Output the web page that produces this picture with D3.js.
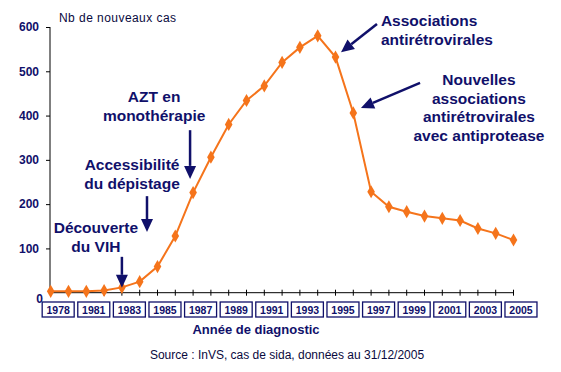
<!DOCTYPE html>
<html>
<head>
<meta charset="utf-8">
<script src="https://cdn.jsdelivr.net/npm/d3@7"></script>
<style>
  body { margin: 0; background: #fff; }
  text { font-family: Arial, "Liberation Sans", sans-serif; }
</style>
</head>
<body>
<div id="chart"></div>
<script>
// data
var years = [1979, 1980, 1981, 1982, 1983, 1984, 1985, 1986, 1987, 1988, 1989, 1990, 1991, 1992,
             1993, 1994, 1995, 1996, 1997, 1998, 1999, 2000, 2001, 2002, 2003, 2004, 2005];
var cases = [3, 3, 3, 5, 12, 25, 59, 128, 226, 306, 380, 434, 467, 520,
             554, 580, 532, 406, 228, 194, 183, 173, 168, 163, 145, 134, 119];
var yTicks = [0, 100, 200, 300, 400, 500, 600];
var xLabels = ["1978", "1981", "1983", "1985", "1987", "1989", "1991",
               "1993", "1995", "1997", "1999", "2001", "2003", "2005"];

var navy = "#10106a",
    orange = "#f5741b";

var width = 561, height = 372;

var svg = d3.select("#chart").append("svg")
    .attr("width", width)
    .attr("height", height);

var x = d3.scaleLinear().domain([1979, 2005]).range([50.7, 513.5]);
var y = d3.scaleLinear().domain([0, 600]).range([292.7, 27]);

// y axis
var yAxis = svg.append("g")
    .attr("transform", "translate(50,0)")
    .call(d3.axisLeft(y).tickValues(yTicks).tickSize(4).tickPadding(7));
yAxis.select(".domain").attr("stroke", "#000").attr("d", "M0," + y(600) + "V" + y(0));
yAxis.selectAll(".tick line").attr("stroke", "#000");
yAxis.selectAll(".tick text")
    .attr("fill", navy)
    .attr("font-size", "12px")
    .attr("font-weight", "bold")
    .attr("font-family", "Arial, 'Liberation Sans', sans-serif");
// the zero sits a bit lower and closer to the axis
yAxis.selectAll(".tick").filter(function(d) { return d === 0; })
    .select("text").attr("x", -7).attr("dy", "0.8em");
yAxis.selectAll(".tick").filter(function(d) { return d === 0; })
    .select("line").remove();

// x axis line with yearly ticks
svg.append("line")
    .attr("x1", 50).attr("x2", x(2005))
    .attr("y1", y(0)).attr("y2", y(0))
    .attr("stroke", "#000");
svg.selectAll("line.xtick")
    .data(years.slice(1))
    .enter().append("line")
    .attr("class", "xtick")
    .attr("x1", function(d) { return x(d); })
    .attr("x2", function(d) { return x(d); })
    .attr("y1", y(0) - 3)
    .attr("y2", y(0) + 3)
    .attr("stroke", "#000");

// boxed year labels
var lab = svg.selectAll("g.xlab")
    .data(xLabels)
    .enter().append("g")
    .attr("class", "xlab")
    .attr("transform", function(d) {
      return "translate(" + x(Math.max(+d, years[0]) + 0.42) + ",302)";
    });
lab.append("rect")
    .attr("x", -16).attr("y", 0)
    .attr("width", 32).attr("height", 15)
    .attr("fill", "#fff")
    .attr("stroke", navy)
    .attr("stroke-width", 1.3);
lab.append("text")
    .attr("x", 0).attr("y", 11.5)
    .attr("text-anchor", "middle")
    .attr("font-size", "10.5px")
    .attr("font-weight", "bold")
    .attr("fill", navy)
    .text(function(d) { return d; });

// line + diamonds
var line = d3.line()
    .x(function(d, i) { return x(years[i]); })
    .y(function(d) { return y(d); });

svg.append("path")
    .datum(cases)
    .attr("d", line)
    .attr("fill", "none")
    .attr("stroke", orange)
    .attr("stroke-width", 2);

svg.selectAll("path.pt")
    .data(cases)
    .enter().append("path")
    .attr("class", "pt")
    .attr("d", d3.symbol().type(d3.symbolDiamond).size(50))
    .attr("transform", function(d, i) {
      return "translate(" + x(years[i]) + "," + y(d) + ")";
    })
    .attr("fill", orange);

// titles
svg.append("text")
    .attr("x", 59).attr("y", 22)
    .attr("font-size", "12px")
    .attr("letter-spacing", "0.45px")
    .attr("fill", "#0a0a40")
    .text("Nb de nouveaux cas");

svg.append("text")
    .attr("x", 256).attr("y", 334)
    .attr("text-anchor", "middle")
    .attr("font-size", "13px")
    .attr("font-weight", "bold")
    .attr("fill", navy)
    .text("Année de diagnostic");

svg.append("text")
    .attr("x", 287).attr("y", 359)
    .attr("text-anchor", "middle")
    .attr("font-size", "12px")
    .attr("fill", "#0a0a40")
    .text("Source : InVS, cas de sida, données au 31/12/2005");

// annotations, placed in data units (year, value)
var notes = [
  { lines: ["Découverte", "du VIH"], tx: 1981.54, ty: 134.8, anchor: "middle",
    a: [1983.0, 81, 1983.0, 11] },
  { lines: ["Accessibilité", "du dépistage"], tx: 1983.57, ty: 277, anchor: "middle",
    a: [1984.41, 218, 1984.41, 137] },
  { lines: ["AZT en", "monothérapie"], tx: 1984.81, ty: 430.6, anchor: "middle",
    a: [1986.83, 367, 1986.83, 257] },
  { lines: ["Associations", "antirétrovirales"], tx: 1997.55, ty: 602, anchor: "start",
    a: [1997.33, 607, 1995.31, 543] },
  { lines: ["Nouvelles", "associations", "antirétrovirales", "avec antiprotease"],
    tx: 2003.06, ty: 469, anchor: "middle",
    a: [1999.75, 474, 1996.43, 417] }
];

var ann = svg.selectAll("g.note")
    .data(notes)
    .enter().append("g")
    .attr("class", "note");

ann.each(function(n) {
  var g = d3.select(this);
  var t = g.append("text")
      .attr("x", x(n.tx))
      .attr("y", y(n.ty))
      .attr("text-anchor", n.anchor)
      .attr("font-size", "15.5px")
      .attr("font-weight", "bold")
      .attr("fill", navy);
  n.lines.forEach(function(l, i) {
    t.append("tspan")
      .attr("x", x(n.tx))
      .attr("dy", i === 0 ? 0 : 18.5)
      .text(l);
  });

  // arrow: shaft then filled head
  var x1 = x(n.a[0]), y1 = y(n.a[1]), x2 = x(n.a[2]), y2 = y(n.a[3]);
  var ang = Math.atan2(y2 - y1, x2 - x1);
  var hl = 13, hw = 6;
  var bx = x2 - hl * Math.cos(ang), by = y2 - hl * Math.sin(ang);
  g.append("line")
    .attr("x1", x1).attr("y1", y1)
    .attr("x2", bx).attr("y2", by)
    .attr("stroke", navy)
    .attr("stroke-width", 2.5);
  g.append("path")
    .attr("d", "M" + x2 + "," + y2 +
               "L" + (bx + hw * Math.sin(ang)) + "," + (by - hw * Math.cos(ang)) +
               "L" + (bx - hw * Math.sin(ang)) + "," + (by + hw * Math.cos(ang)) + "Z")
    .attr("fill", navy);
});
</script>
</body>
</html>
